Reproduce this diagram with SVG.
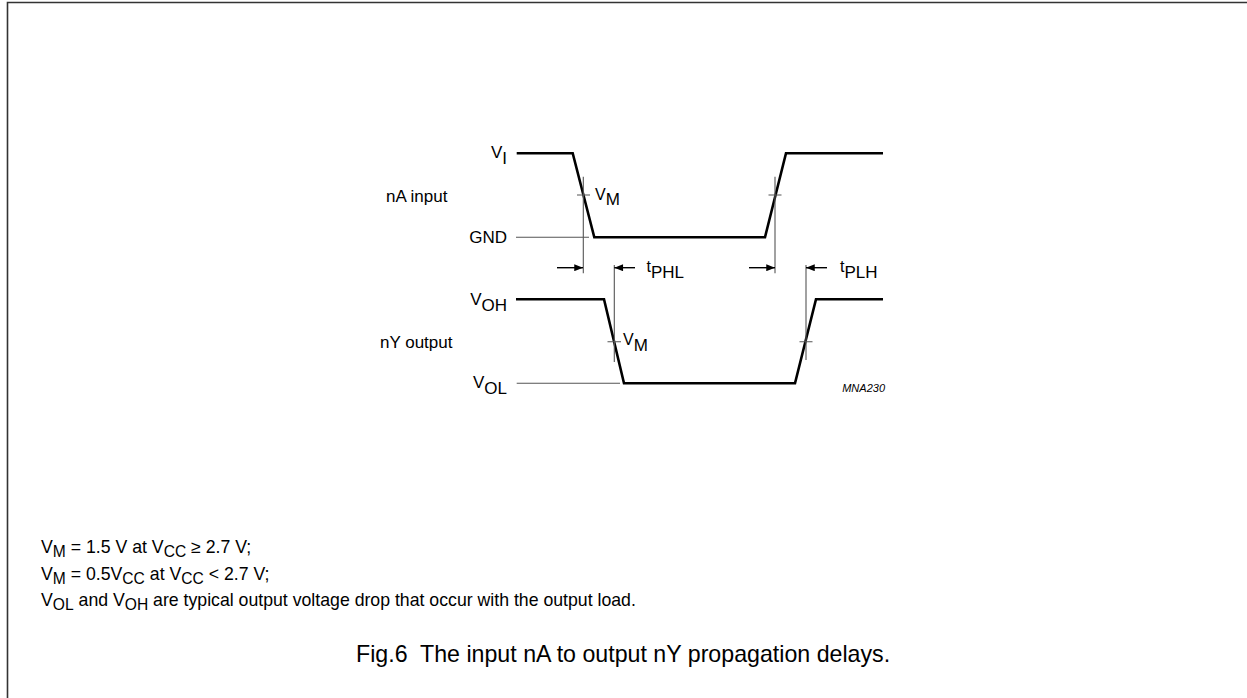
<svg xmlns="http://www.w3.org/2000/svg" width="1247" height="698" viewBox="0 0 1247 698">
<style>
.t{font-family:"Liberation Sans",Arial,sans-serif;fill:#000}
.lab{font-size:17px}
.vl{font-size:16px}
.sub{font-size:17px}
.note{font-size:17.7px}
.nsub{font-size:15.6px}
.wave{fill:none;stroke:#000;stroke-width:2.6;stroke-linejoin:miter}
.ref{fill:none;stroke:#555;stroke-width:1.1}
.dim{fill:none;stroke:#000;stroke-width:1.4}
</style>
<defs>
<marker id="ah" viewBox="0 0 10 8" refX="10" refY="4" markerWidth="10" markerHeight="7" markerUnits="userSpaceOnUse" orient="auto">
<path d="M0,0 L10,4 L0,8 Z" fill="#000"/>
</marker>
</defs>
<rect width="1247" height="698" fill="#fff"/>
<path d="M7.5,698 V2.5 H1247" fill="none" stroke="#333" stroke-width="1.6"/>

<g id="input-wave">
<path class="wave" d="M516.7,153.3 H572.7 L594.3,237.3 H765 L786,153.3 H883"/>
<path class="ref" d="M516,237.3 H589"/>
<text class="t lab" x="507" y="158" text-anchor="end">V<tspan class="sub" dy="6">I</tspan></text>
<text class="t lab" x="386" y="201.5">nA input</text>
<text class="t lab" x="507" y="243.3" text-anchor="end">GND</text>
<text class="t vl" x="595" y="200">V<tspan class="sub" dy="5">M</tspan></text>
</g>

<g id="output-wave">
<path class="wave" d="M516,299.3 H604 L624,383.3 H795 L816,299.3 H883"/>
<path class="ref" d="M516.7,383.3 H620"/>
<text class="t lab" x="507" y="304.5" text-anchor="end">V<tspan class="sub" dy="6">OH</tspan></text>
<text class="t lab" x="380" y="348">nY output</text>
<text class="t lab" x="507" y="388" text-anchor="end">V<tspan class="sub" dy="5.5">OL</tspan></text>
<text class="t vl" x="623" y="344.5">V<tspan class="sub" dy="6">M</tspan></text>
<text class="t" x="885" y="391.5" text-anchor="end" font-size="11" font-style="italic">MNA230</text>
</g>

<g id="connectors">
<path class="ref" d="M583.3,176.7 V273.3 M577,195 H590 M775,176.7 V273.3 M768.5,195 H781.5 M614.3,265 V362 M607.5,341.7 H621 M806,265 V360 M799.5,341.7 H812.5"/>
<path class="dim" d="M557,267.7 H583" marker-end="url(#ah)"/>
<path class="dim" d="M635,267.7 H614.3" marker-end="url(#ah)"/>
<path class="dim" d="M749,267.7 H775" marker-end="url(#ah)"/>
<path class="dim" d="M827,267.7 H806" marker-end="url(#ah)"/>
<text class="t vl" x="646.5" y="271.7">t<tspan class="sub" dy="6.3">PHL</tspan></text>
<text class="t vl" x="840" y="271.7">t<tspan class="sub" dy="6.3">PLH</tspan></text>
</g>

<g id="notes">
<text class="t note" x="41" y="553">V<tspan class="nsub" dy="4">M</tspan><tspan dy="-4"> = 1.5 V at V</tspan><tspan class="nsub" dy="4">CC</tspan><tspan dy="-4"> ≥ 2.7 V;</tspan></text>
<text class="t note" x="41" y="579.5">V<tspan class="nsub" dy="4">M</tspan><tspan dy="-4"> = 0.5V</tspan><tspan class="nsub" dy="4">CC</tspan><tspan dy="-4"> at V</tspan><tspan class="nsub" dy="4">CC</tspan><tspan dy="-4"> &lt; 2.7 V;</tspan></text>
<text class="t note" x="41" y="606">V<tspan class="nsub" dy="4">OL</tspan><tspan dy="-4"> and V</tspan><tspan class="nsub" dy="4">OH</tspan><tspan dy="-4"> are typical output voltage drop that occur with the output load.</tspan></text>
<text class="t" x="356" y="662" font-size="23.2" style="white-space:pre">Fig.6  The input nA to output nY propagation delays.</text>
</g>
</svg>
